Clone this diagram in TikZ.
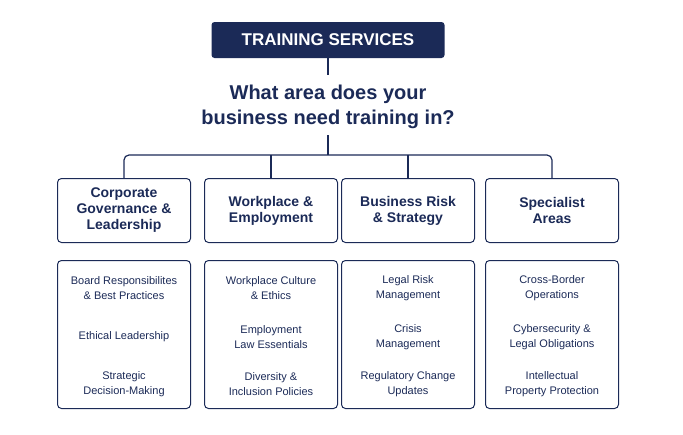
\documentclass[tikz,border=0pt]{standalone}
\usepackage{fontspec}
\setmainfont{Liberation Sans}
\definecolor{navy}{HTML}{1B2A57}
\begin{document}
\begin{tikzpicture}[x=1pt,y=-1pt,
  hdr/.style={draw=navy,line width=1pt,rounded corners=4pt,minimum width=133pt,minimum height=64pt,align=center,text=navy,font=\fontsize{14}{16}\selectfont\bfseries,anchor=north west,inner sep=2pt},
  body/.style={draw=navy,line width=1pt,rounded corners=4pt,minimum width=133pt,minimum height=148pt,anchor=north west,inner sep=0pt},
  itm/.style={align=center,text=navy,font=\fontsize{11}{15}\selectfont},
  ln/.style={draw=navy,line width=1.2pt}]
\useasboundingbox (0,0) rectangle (683,434);
\node[fill=navy,rounded corners=3pt,minimum width=233pt,minimum height=36pt,text=white,font=\fontsize{17}{19}\selectfont\bfseries] (title) at (328,40) {TRAINING SERVICES};
\node[text=navy,align=center,font=\fontsize{20}{25}\selectfont\bfseries] (q) at (328,107) {What area does your\\business need training in?};
\coordinate (t1) at (328,75);
\draw[ln] (title.south) -- (t1);
\node[hdr] (h1) at (57,178) {Corporate\\Governance \&\\Leadership};
\node[hdr] (h2) at (204,178) {Workplace \&\\Employment};
\node[hdr] (h3) at (341,178) {Business Risk\\\& Strategy};
\node[hdr] (h4) at (485,178) {Specialist\\Areas};
\coordinate (b0) at (328,135);
\coordinate (bm) at (328,155);
\draw[ln] (b0) -- (bm);
\draw[ln,rounded corners=5pt] (h1.north) -- (h1.north|-bm) -- (h4.north|-bm) -- (h4.north);
\draw[ln] (h2.north) -- (h2.north|-bm);
\draw[ln] (h3.north) -- (h3.north|-bm);
\node[body] (c1) at (57,260) {};
\node[body] (c2) at (204,260) {};
\node[body] (c3) at (341,260) {};
\node[body] (c4) at (485,260) {};
\foreach \c/\a/\b/\d in {c1/{Board Responsibilites\\\& Best Practices}/{Ethical Leadership}/{Strategic\\Decision-Making},
  c2/{Workplace Culture\\\& Ethics}/{Employment\\Law Essentials}/{Diversity \&\\Inclusion Policies},
  c3/{Legal Risk\\Management}/{Crisis\\Management}/{Regulatory Change\\Updates},
  c4/{Cross-Border\\Operations}/{Cybersecurity \&\\Legal Obligations}/{Intellectual\\Property Protection}}{
  \node[itm] (\c a) at ([yshift=-28pt]\c.north) {\a};
  \node[itm] (\c b) at ([yshift=-77pt]\c.north) {\b};
  \node[itm] (\c d) at ([yshift=-124pt]\c.north) {\d};
}
\end{tikzpicture}
\end{document}
